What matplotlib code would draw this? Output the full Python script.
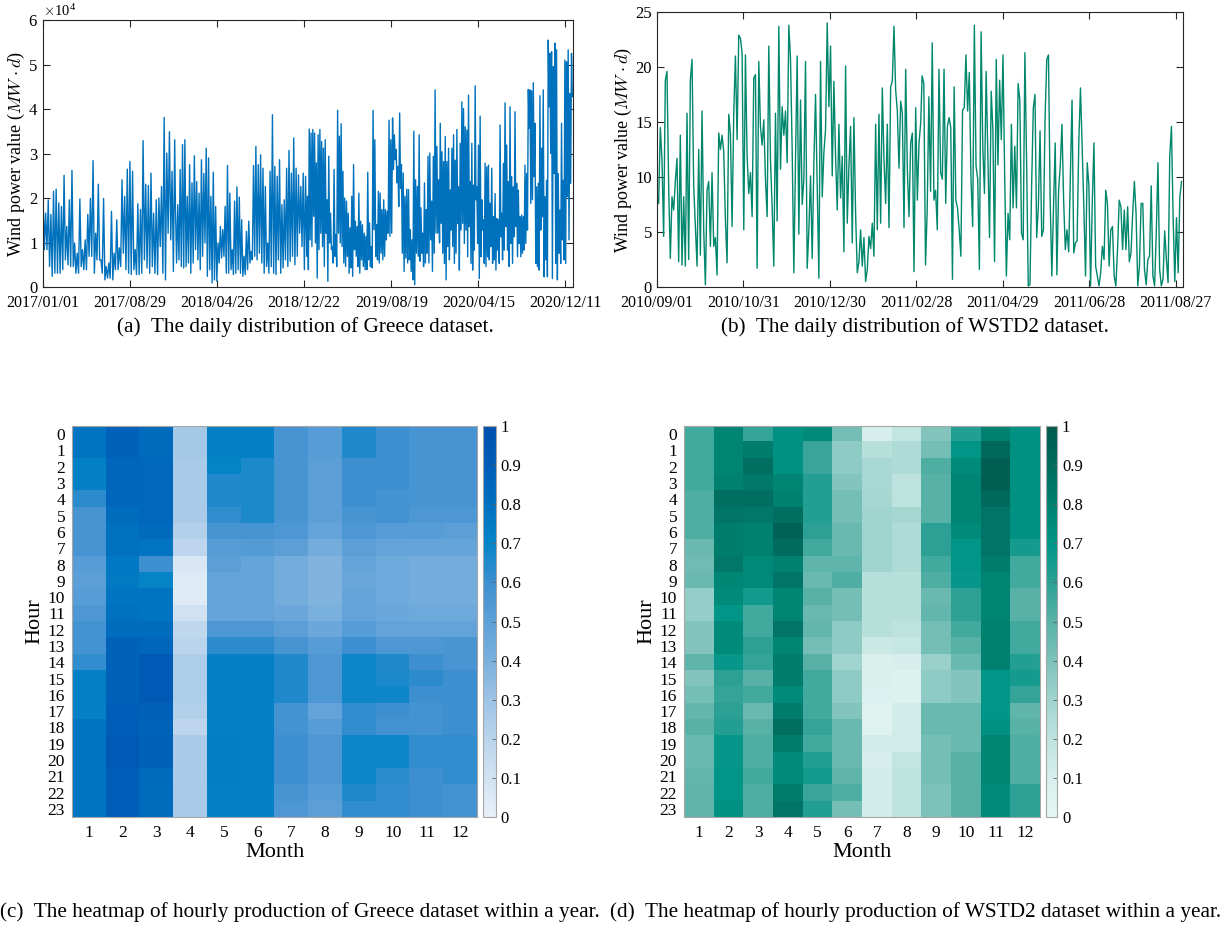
import numpy as np
import pandas as pd
import matplotlib
matplotlib.use('Agg')
import matplotlib.pyplot as plt
import matplotlib.dates as mdates
from matplotlib.colors import LinearSegmentedColormap
from matplotlib.ticker import ScalarFormatter

plt.rcParams['font.family'] = ['Liberation Serif', 'DejaVu Serif']
plt.rcParams['mathtext.fontset'] = 'cm'

# ---- Greece daily wind power (x 1e4 MW*d) ----
greece_2017 = [2.09, 0.84, 1.66, 0.84, 1.96, 0.46, 1.63, 0.24, 2.15, 0.31, 2.2, 0.31, 1.89, 0.31, 1.81, 0.39,
               2.51, 0.61, 1.36, 0.5, 1.96, 0.46, 2.62, 0.46, 0.99, 0.31, 0.76, 0.31, 1.98, 0.46, 0.84, 0.39,
               1.06, 0.39, 1.63, 0.69, 1.99, 0.69, 2.84, 0.31, 1.21, 0.61, 2.31, 0.61, 0.61, 0.31, 1.99, 0.16,
               0.46, 0.2, 0.54, 0.2, 1.7, 0.16, 0.76, 0.39, 1.51, 0.39, 0.88, 0.46, 2.41, 0.76, 2.04, 0.39,
               2.65, 0.31, 2.82, 0.28, 2.6, 0.39, 0.84, 0.28, 1.87, 0.28, 1.74, 0.31, 3.29, 0.61, 2.31, 0.43,
               2.28, 0.31, 2.56, 0.46, 1.66, 0.31, 1.96, 0.28, 2.0, 0.91, 2.26, 0.31, 3.81, 0.16, 3.01, 1.21,
               3.49, 1.06, 2.6, 0.35, 3.31]
greece_2018 = [1.81, 0.54, 1.85, 0.61, 2.64, 0.46, 3.2, 0.43, 3.31, 0.46, 2.04, 0.54, 2.75, 0.31, 2.34, 0.54,
               2.95, 0.84, 2.37, 0.61, 2.11, 0.39, 2.86, 0.69, 2.55, 0.99, 3.12, 0.24, 2.9, 0.39, 2.04, 0.09,
               2.58, 0.16, 1.81, 0.13, 0.99, 0.54, 1.36, 0.65, 1.29, 0.69, 1.81, 0.31, 2.73, 0.31, 2.11, 0.39,
               0.84, 0.28, 1.93, 0.31, 2.25, 0.39, 2.02, 0.31, 1.51, 0.24, 0.69, 0.28, 1.25, 0.39, 1.48, 0.54,
               0.8, 0.61, 2.73, 0.69, 3.16, 0.61, 2.75, 0.76, 2.97, 0.54, 2.67, 0.31, 2.26, 0.46, 0.99, 0.31,
               2.6, 0.46, 3.87, 0.31, 2.71, 0.28, 2.49, 0.61, 2.86, 0.31, 1.85, 0.43, 1.96, 0.61, 2.67, 0.46,
               3.07, 0.58, 2.56, 0.69, 3.35, 0.5, 2.67, 0.69, 2.52, 1.21, 2.26, 0.91, 2.56, 0.39, 2.49, 0.69]
greece_2019 = [2.04, 0.39, 3.55, 1.06, 3.46, 0.91, 3.54, 1.59, 3.46, 0.99, 2.79, 0.2, 3.42, 0.84, 3.54, 1.21,
               3.27, 0.91, 3.12, 0.46, 3.31, 1.21, 1.96, 0.13, 2.94, 0.99, 1.66, 0.84, 0.9, 0.54, 2.64, 0.69,
               1.18, 0.46, 3.97, 1.21, 3.39, 0.99, 3.67, 0.91, 2.6, 0.54, 2.0, 0.46, 1.93, 0.69, 1.66, 0.31,
               1.33, 0.43, 2.04, 0.24, 2.75, 0.84, 1.48, 0.69, 1.36, 0.46, 2.11, 0.31, 1.48, 0.61, 1.4, 0.46,
               1.21, 0.39, 1.14, 0.39, 2.58, 0.61, 1.44, 0.46, 0.91, 0.43, 3.97, 1.29, 3.31, 0.69, 1.4, 0.61,
               2.15, 0.54, 2.11, 0.76, 1.74, 0.61, 1.96, 0.69, 1.74, 1.06, 1.7, 1.21, 3.75, 1.14, 3.31, 1.21,
               3.8, 2.64, 3.42, 2.86, 3.09, 2.34, 2.71, 1.81, 3.91, 2.22, 2.75, 0.76, 2.56, 0.35, 2.04, 0.65,
               2.2, 0.54, 2.19, 0.61, 1.29, 0.35, 1.06, 0.16, 3.5, 0.05, 2.41, 0.76, 2.26, 0.69, 3.42, 0.58,
               1.78, 0.76, 1.21, 0.46, 2.34, 0.54, 1.74, 0.76, 2.94, 0.54, 3.01, 1.06, 1.93, 0.35, 2.94, 0.76,
               4.43, 1.21, 3.16, 1.21, 2.41, 0.99]
greece_2020 = [3.68, 1.43, 3.04, 0.76, 2.82, 0.53, 3.38, 0.16, 2.82, 0.91, 3.12, 0.61, 2.18, 1.28, 3.12, 0.91,
               3.42, 0.53, 2.85, 0.76, 3.54, 1.43, 2.25, 0.38, 3.23, 1.28, 4.16, 1.43, 4.01, 0.98, 3.6, 1.28,
               3.53, 0.68, 4.31, 1.36, 2.37, 0.53, 3.23, 0.38, 2.29, 0.83, 4.52, 1.96, 2.25, 0.98, 3.19, 0.19,
               3.84, 0.68, 1.96, 1.28, 1.51, 0.53, 2.78, 0.46, 2.7, 0.68, 2.74, 0.61, 1.88, 0.91, 2.67, 0.53,
               1.58, 0.61, 2.1, 0.38, 1.54, 0.83, 1.51, 0.53, 3.64, 1.13, 1.66, 0.61, 2.78, 0.83, 4.14, 1.36,
               3.19, 0.83, 2.37, 0.46, 4.05, 0.98, 2.48, 0.53, 2.25, 1.13, 3.94, 1.36, 2.33, 0.68, 2.18, 0.98,
               1.58, 0.68, 1.62, 0.76, 1.58, 0.83, 2.74, 0.98, 2.55, 1.28, 4.44, 3.57, 4.43, 1.88, 4.41, 1.96,
               4.59, 2.48, 3.68, 0.53, 2.25, 0.46, 2.33, 0.38, 4.3, 1.28, 3.12, 1.58, 4.43, 0.23, 2.03, 0.61,
               2.4, 0.23, 5.55, 4.05, 5.25, 3.0, 5.29, 0.19, 4.95, 2.55, 5.48, 0.53, 5.33, 0.16, 2.55, 0.76,
               1.73, 0.53, 3.68, 1.06, 2.4, 0.61, 5.1, 0.53, 5.06, 2.03, 5.33, 1.06, 4.35, 2.33, 5.25, 4.28]

# ---- WSTD2 daily wind power (MW*d) ----
wstd2_part1 = [8.5, 7.6, 14.5, 11.6, 4.6, 18.8, 19.6, 9.2, 2.6, 8.2, 7.0, 9.6, 11.7, 2.3, 13.8, 2.0, 8.2, 1.9,
               15.8, 2.5, 18.8, 20.7, 9.2, 5.5, 1.9, 12.5, 2.9, 16.0, 5.2, 0.2, 8.8, 9.6, 3.7, 10.4, 3.7, 4.5,
               1.1, 14.0, 12.5, 13.8, 12.3, 6.1, 2.2, 15.7, 14.0, 5.5, 15.8, 21.0, 13.4, 22.9, 22.6, 21.3, 5.2,
               21.1, 11.9, 8.5, 10.4, 6.4, 19.0, 19.3, 1.7, 20.5, 14.6, 12.9, 15.2, 9.8, 6.4, 21.9, 11.6, 7.3,
               1.9, 15.8, 6.0, 23.7, 10.7, 16.4, 13.8, 16.0, 11.3, 23.8, 20.7, 12.5, 1.3, 11.6, 21.0, 4.8, 17.0,
               7.5, 9.8, 20.5, 1.7, 5.2, 10.1, 2.6, 11.3, 17.5, 9.2, 0.8, 20.5, 8.2, 12.2, 14.3, 24.0, 16.4,
               21.9, 10.1, 18.7, 11.9, 7.0, 14.8, 8.1, 11.9, 3.2, 20.1, 5.8, 11.0, 14.6, 4.0, 15.4, 6.7, 1.3,
               2.3, 5.2, 1.9, 4.5, 0.5, 1.6, 4.6, 3.5, 5.8, 2.8, 14.8, 5.2, 15.7, 5.8, 18.1, 11.6, 7.6, 14.8,
               5.4, 18.2, 18.7, 23.7, 17.9, 16.0, 10.8, 16.9, 15.8, 5.4, 19.8, 10.7, 6.4, 13.1, 14.0, 1.4, 16.3,
               7.9, 13.1, 14.9]
wstd2_part2 = [19.2, 18.5, 2.0, 7.0, 17.3, 8.7, 22.2, 7.9, 8.8, 5.2, 19.8, 10.4, 9.8, 19.8, 7.6, 14.6, 15.4,
               14.5, 0.7, 18.2, 7.9, 7.2, 5.2, 2.8, 16.1, 16.3, 21.1, 16.0, 19.5, 9.8, 5.5, 23.8, 11.0, 9.8, 1.6,
               23.2, 12.8, 8.5, 19.6, 12.2, 4.5, 17.8, 14.3, 2.3, 20.7, 11.1, 18.8, 13.4, 21.1, 10.1, 1.0, 6.7,
               4.3, 14.8, 7.2, 12.8, 7.2, 18.5, 17.0, 4.9, 4.3, 21.3, 11.6, 0.1, 0.2, 9.2, 16.3, 17.5, 4.5, 7.3,
               14.2, 4.6, 5.2, 15.5, 20.7, 21.1, 7.9, 1.0, 7.3, 13.1, 1.1, 8.8, 11.0, 14.8, 7.9, 3.4, 5.2, 3.2,
               10.2, 17.0, 3.1, 4.0, 4.2, 13.1, 18.1, 12.8, 7.3, 1.0, 11.3, 9.2, 0.1, 7.6, 13.1, 1.9, 1.0, 0.1,
               1.3, 3.7, 2.5, 8.8, 7.6, 1.9, 5.2, 5.5, 1.0, 0.1, 3.4, 7.9, 7.3, 3.4, 7.0, 3.4, 7.3, 2.3, 3.1,
               6.7, 9.6, 6.7, 0.1, 1.9, 7.6, 7.6, 1.6, 0.2, 2.5, 2.8, 9.2, 1.0, 0.1, 4.9, 11.3, 1.6, 0.1, 0.7,
               5.1, 2.5, 0.4, 11.9, 14.6, 6.4, 0.5, 6.3, 1.3, 8.2, 9.6]

# ---- hourly heatmaps, one list of 24 hours per month ----
hours = list(range(24))
months = list(range(1, 13))
greece_heat = [
    [0.78, 0.78, 0.72, 0.72, 0.63, 0.57, 0.57, 0.57, 0.52, 0.5, 0.52, 0.55, 0.58, 0.58, 0.62, 0.72, 0.72, 0.72, 0.78, 0.78, 0.78, 0.78, 0.78, 0.78],
    [0.88, 0.88, 0.85, 0.85, 0.85, 0.82, 0.8, 0.8, 0.76, 0.75, 0.78, 0.8, 0.82, 0.88, 0.88, 0.88, 0.88, 0.9, 0.9, 0.92, 0.92, 0.9, 0.9, 0.9],
    [0.83, 0.83, 0.84, 0.84, 0.84, 0.84, 0.83, 0.77, 0.6, 0.7, 0.78, 0.78, 0.82, 0.85, 0.92, 0.93, 0.92, 0.88, 0.87, 0.88, 0.88, 0.83, 0.82, 0.82],
    [0.27, 0.27, 0.25, 0.25, 0.25, 0.25, 0.22, 0.18, 0.06, 0.04, 0.04, 0.1, 0.17, 0.2, 0.24, 0.24, 0.24, 0.22, 0.18, 0.25, 0.25, 0.25, 0.25, 0.25],
    [0.72, 0.72, 0.7, 0.65, 0.65, 0.62, 0.57, 0.52, 0.5, 0.47, 0.47, 0.47, 0.55, 0.63, 0.72, 0.72, 0.72, 0.72, 0.72, 0.74, 0.74, 0.73, 0.72, 0.72],
    [0.72, 0.72, 0.66, 0.66, 0.66, 0.66, 0.57, 0.53, 0.47, 0.47, 0.47, 0.47, 0.55, 0.63, 0.72, 0.72, 0.72, 0.72, 0.72, 0.72, 0.72, 0.72, 0.72, 0.72],
    [0.57, 0.57, 0.57, 0.57, 0.57, 0.57, 0.55, 0.5, 0.42, 0.42, 0.42, 0.45, 0.5, 0.57, 0.65, 0.65, 0.65, 0.58, 0.58, 0.6, 0.6, 0.6, 0.57, 0.55],
    [0.52, 0.52, 0.5, 0.5, 0.5, 0.5, 0.48, 0.42, 0.38, 0.38, 0.38, 0.4, 0.45, 0.52, 0.55, 0.55, 0.55, 0.48, 0.52, 0.55, 0.55, 0.55, 0.52, 0.5],
    [0.65, 0.65, 0.6, 0.6, 0.6, 0.57, 0.55, 0.5, 0.47, 0.45, 0.47, 0.48, 0.52, 0.6, 0.68, 0.68, 0.68, 0.62, 0.62, 0.68, 0.68, 0.68, 0.65, 0.62],
    [0.6, 0.6, 0.6, 0.6, 0.58, 0.58, 0.52, 0.48, 0.44, 0.44, 0.44, 0.45, 0.48, 0.55, 0.65, 0.66, 0.68, 0.6, 0.58, 0.68, 0.68, 0.64, 0.62, 0.62],
    [0.57, 0.57, 0.57, 0.57, 0.57, 0.55, 0.52, 0.47, 0.42, 0.42, 0.42, 0.44, 0.48, 0.55, 0.6, 0.63, 0.6, 0.58, 0.58, 0.62, 0.62, 0.6, 0.6, 0.6],
    [0.57, 0.57, 0.57, 0.57, 0.57, 0.55, 0.5, 0.47, 0.42, 0.42, 0.42, 0.44, 0.48, 0.56, 0.56, 0.6, 0.6, 0.6, 0.6, 0.62, 0.62, 0.62, 0.58, 0.58],
]
wstd2_heat = [
    [0.55, 0.55, 0.55, 0.55, 0.52, 0.52, 0.52, 0.45, 0.43, 0.45, 0.33, 0.33, 0.38, 0.38, 0.48, 0.38, 0.42, 0.47, 0.5, 0.45, 0.45, 0.47, 0.48, 0.48],
    [0.78, 0.78, 0.78, 0.8, 0.88, 0.85, 0.82, 0.82, 0.84, 0.77, 0.75, 0.7, 0.75, 0.75, 0.68, 0.6, 0.58, 0.6, 0.62, 0.68, 0.68, 0.7, 0.7, 0.72],
    [0.58, 0.82, 0.88, 0.83, 0.88, 0.84, 0.8, 0.8, 0.76, 0.76, 0.66, 0.55, 0.55, 0.6, 0.58, 0.5, 0.55, 0.45, 0.5, 0.52, 0.52, 0.55, 0.52, 0.52],
    [0.72, 0.72, 0.72, 0.78, 0.8, 0.88, 0.95, 0.9, 0.8, 0.85, 0.78, 0.78, 0.85, 0.78, 0.82, 0.82, 0.75, 0.82, 0.88, 0.82, 0.75, 0.75, 0.82, 0.85],
    [0.75, 0.57, 0.57, 0.62, 0.62, 0.62, 0.6, 0.55, 0.48, 0.45, 0.5, 0.45, 0.47, 0.42, 0.5, 0.55, 0.55, 0.55, 0.58, 0.55, 0.62, 0.66, 0.57, 0.62],
    [0.42, 0.35, 0.35, 0.38, 0.42, 0.42, 0.45, 0.45, 0.48, 0.52, 0.42, 0.42, 0.35, 0.35, 0.3, 0.35, 0.35, 0.38, 0.45, 0.45, 0.45, 0.48, 0.52, 0.42],
    [0.1, 0.22, 0.27, 0.27, 0.28, 0.3, 0.3, 0.3, 0.3, 0.22, 0.22, 0.22, 0.22, 0.15, 0.08, 0.08, 0.07, 0.05, 0.05, 0.12, 0.1, 0.12, 0.12, 0.12],
    [0.18, 0.25, 0.25, 0.2, 0.2, 0.28, 0.25, 0.25, 0.25, 0.22, 0.22, 0.22, 0.2, 0.17, 0.1, 0.06, 0.06, 0.12, 0.12, 0.12, 0.18, 0.2, 0.2, 0.2],
    [0.38, 0.42, 0.52, 0.5, 0.5, 0.5, 0.6, 0.6, 0.55, 0.52, 0.45, 0.47, 0.42, 0.42, 0.32, 0.35, 0.35, 0.45, 0.45, 0.42, 0.42, 0.42, 0.4, 0.4],
    [0.62, 0.7, 0.75, 0.78, 0.78, 0.78, 0.75, 0.7, 0.7, 0.68, 0.6, 0.6, 0.55, 0.5, 0.45, 0.38, 0.38, 0.45, 0.45, 0.45, 0.5, 0.5, 0.5, 0.5],
    [0.8, 0.92, 0.97, 0.97, 0.92, 0.85, 0.85, 0.85, 0.82, 0.78, 0.78, 0.78, 0.8, 0.8, 0.8, 0.7, 0.7, 0.7, 0.72, 0.78, 0.78, 0.78, 0.75, 0.75],
    [0.72, 0.72, 0.72, 0.72, 0.72, 0.72, 0.72, 0.65, 0.55, 0.55, 0.5, 0.5, 0.55, 0.55, 0.62, 0.65, 0.58, 0.48, 0.5, 0.52, 0.52, 0.52, 0.6, 0.6],
]

blue_cmap = LinearSegmentedColormap.from_list('blues', [
    '#e8f0f9', '#d0e2f2', '#b9d4ec', '#9dc3e5', '#7ab0dd', '#5da0d8',
    '#3d8fd0', '#0585c8', '#0070c0', '#005eb8', '#0050ae'])
teal_cmap = LinearSegmentedColormap.from_list('teals', [
    '#e6f7f5', '#d6efec', '#bee3df', '#a0d4ce', '#7cc2ba', '#58b2a8',
    '#2ca095', '#009688', '#00806f', '#006c60', '#005a4e'])

SPINE = '#262626'


def style_ts(ax):
    for s in ax.spines.values():
        s.set_color(SPINE)
        s.set_linewidth(0.8)
    ax.tick_params(direction='in', top=True, right=True, length=5, width=0.8,
                   labelsize=12, colors=SPINE, labelcolor='black')
    ax.tick_params(axis='x', labelsize=11.5, pad=6)
    ax.xaxis.set_major_formatter(mdates.DateFormatter('%Y/%m/%d'))


def series_dates(values, start, end):
    return pd.date_range(start, end, periods=len(values))


def heatmap(fig, rect, cbar_rect, columns, cmap):
    ax = fig.add_axes(rect)
    data = np.array(columns).T
    im = ax.imshow(data, cmap=cmap, vmin=0, vmax=1, aspect='auto', interpolation='nearest',
                   extent=[0.5, 12.5, 23.5, -0.5])
    ax.set_xticks(months)
    ax.set_yticks(hours)
    ax.tick_params(length=0, labelsize=12.5, pad=6)
    ax.tick_params(axis='y', pad=5)
    for s in ax.spines.values():
        s.set_color('#a6a6a6')
        s.set_linewidth(0.8)
    ax.set_xlabel('Month', fontsize=16, labelpad=1)
    ax.set_ylabel('Hour', fontsize=16, labelpad=2)
    cax = fig.add_axes(cbar_rect)
    cb = fig.colorbar(im, cax=cax, ticks=np.round(np.arange(0, 1.01, 0.1), 1))
    cb.ax.set_yticklabels(['0'] + ['%.1f' % v for v in np.arange(0.1, 0.95, 0.1)] + ['1'])
    cb.outline.set_edgecolor('#a6a6a6')
    cb.outline.set_linewidth(0.8)
    cb.ax.tick_params(direction='in', length=3, width=0.6, labelsize=12, colors='#606060',
                      labelcolor='black')
    return ax


fig = plt.figure(figsize=(12.25, 9.31), dpi=100)

# (a) Greece daily series
ax1 = fig.add_axes([0.0351, 0.6917, 0.4327, 0.2868])
years = [(greece_2017, '2017-01-01', '2017-12-30'), (greece_2018, '2018-01-01', '2018-12-29'),
         (greece_2019, '2018-12-31', '2019-12-30'), (greece_2020, '2020-01-01', '2020-12-30')]
gx = np.concatenate([series_dates(v, a, b) for v, a, b in years])
gy = np.concatenate([np.array(v) for v, a, b in years]) * 1e4
ax1.plot(gx, gy, color='#0072bd', lw=1.0)
ax1.set_xlim(pd.Timestamp('2017-01-01'), pd.Timestamp('2021-01-01'))
ax1.set_ylim(0, 6e4)
ax1.set_xticks(pd.date_range('2017-01-01', periods=7, freq='240D'))
fmt = ScalarFormatter(useMathText=True)
fmt.set_powerlimits((0, 0))
ax1.yaxis.set_major_formatter(fmt)
ax1.yaxis.get_offset_text().set_fontsize(10.5)
style_ts(ax1)
ax1.set_ylabel(r'Wind power value ($MW \cdot d$)', fontsize=13, labelpad=1)

# (b) WSTD2 daily series
ax2 = fig.add_axes([0.5363, 0.6917, 0.4294, 0.2954])
wx = np.concatenate([series_dates(wstd2_part1, '2010-09-01', '2011-03-03'),
                     series_dates(wstd2_part2, '2011-03-04', '2011-08-31')])
wy = np.array(wstd2_part1 + wstd2_part2)
ax2.plot(wx, wy, color='#00876c', lw=1.0)
ax2.set_xlim(pd.Timestamp('2010-09-01'), pd.Timestamp('2011-09-01'))
ax2.set_ylim(0, 25)
ax2.set_xticks(pd.date_range('2010-09-01', periods=7, freq='60D'))
ax2.set_yticks([0, 5, 10, 15, 20, 25])
style_ts(ax2)
ax2.set_ylabel(r'Wind power value ($MW \cdot d$)', fontsize=13, labelpad=1)

# (c), (d) heatmaps
heatmap(fig, [0.0588, 0.1224, 0.3306, 0.42], [0.3943, 0.1224, 0.0106, 0.42], greece_heat, blue_cmap)
heatmap(fig, [0.5584, 0.1224, 0.2906, 0.42], [0.8539, 0.1224, 0.009, 0.42], wstd2_heat, teal_cmap)

cap = dict(fontsize=15.3, ha='center', va='center')
fig.text(305 / 1225, 1 - 327 / 931, '(a)  The daily distribution of Greece dataset.', **cap)
fig.text(915 / 1225, 1 - 327 / 931, '(b)  The daily distribution of WSTD2 dataset.', **cap)
fig.text(300 / 1225, 1 - 912 / 931, '(c)  The heatmap of hourly production of Greece dataset within a year.', **cap)
fig.text(916 / 1225, 1 - 912 / 931, '(d)  The heatmap of hourly production of WSTD2 dataset within a year.', **cap)

fig.savefig('out.png', dpi=100)
